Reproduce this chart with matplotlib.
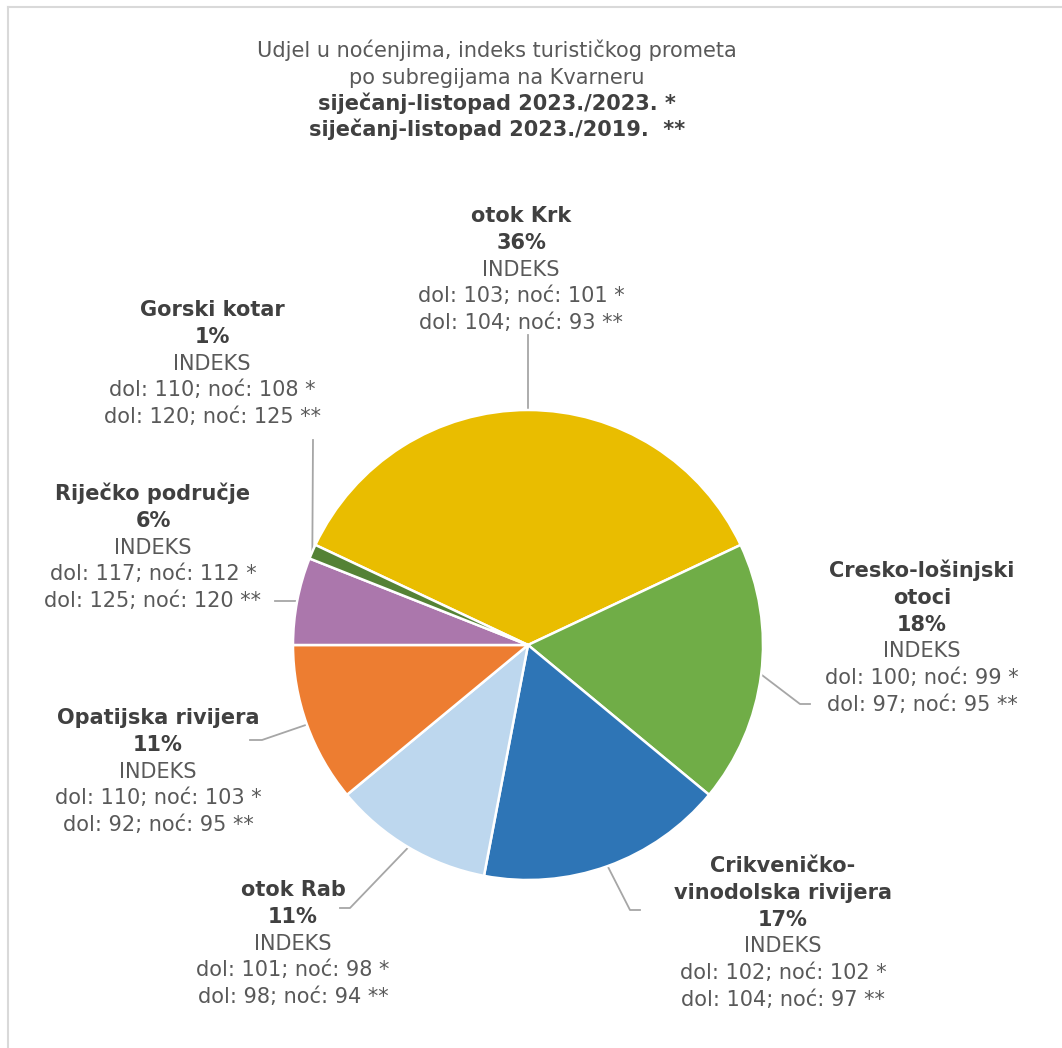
import numpy as np
import matplotlib
matplotlib.use("Agg")
import matplotlib.pyplot as plt
from matplotlib.lines import Line2D

# data (clockwise from the top)
names = ['otok Krk', 'Cresko-lošinjski\notoci', 'Crikveničko-\nvinodolska rivijera',
         'otok Rab', 'Opatijska rivijera', 'Riječko područje', 'Gorski kotar']
shares = [36, 18, 17, 11, 11, 6, 1]
dol_23 = [103, 100, 102, 101, 110, 117, 110]
noc_23 = [101, 99, 102, 98, 103, 112, 108]
dol_19 = [104, 97, 104, 98, 92, 125, 120]
noc_19 = [93, 95, 97, 94, 95, 120, 125]
colors = ['#E9BD00', '#70AD47', '#2E75B6', '#BDD7EE', '#ED7D31', '#AB77AC', '#548235']

title_lines = [('Udjel u noćenjima, indeks turističkog prometa', 'normal'),
               ('po subregijama na Kvarneru', 'normal'),
               ('siječanj-listopad 2023./2023. *', 'bold'),
               ('siječanj-listopad 2023./2019.  **', 'bold')]

# layout in pixels (y from top)
W, H = 1062, 1048
CX, CY, R = 528, 645, 235
STEP = 26.8
label_pos = [(521, 222), (922, 577), (783, 872), (293, 896), (158, 724), (153, 500), (212, 316)]
# leader elbow + end points (pixels)
leaders = [[(528, 335)],
           [(800, 704), (810, 704)],
           [(630, 910), (640, 910)],
           [(350, 908), (340, 908)],
           [(262, 740), (250, 740)],
           [(275, None)],
           [(313, 440)]]

BOLD_C = '#404040'
NORM_C = '#595959'
FS = 15

fig = plt.figure(figsize=(W / 100, H / 100), dpi=100)
ax = fig.add_axes([0, 0, 1, 1])


def py(y):
    return H - y


wedges, _ = ax.pie(shares, colors=colors, startangle=90 + shares[0] * 1.8,
                   counterclock=False, center=(CX, py(CY)), radius=R,
                   wedgeprops=dict(edgecolor='white', linewidth=1.8))
ax.set_xlim(0, W)
ax.set_ylim(0, H)
ax.set_aspect('equal')
ax.axis('off')

# title
for i, (txt, w) in enumerate(title_lines):
    ax.text(497, py(57 + i * 26.5), txt, ha='center', va='baseline', fontsize=FS,
            fontweight=w, color=BOLD_C if w == 'bold' else NORM_C)

# labels
for i, nm in enumerate(names):
    lines = [(s, 'bold') for s in nm.split('\n')]
    lines.append((f'{shares[i]}%', 'bold'))
    lines.append(('INDEKS', 'normal'))
    lines.append((f'dol: {dol_23[i]}; noć: {noc_23[i]} *', 'normal'))
    lines.append((f'dol: {dol_19[i]}; noć: {noc_19[i]} **', 'normal'))
    x0, y0 = label_pos[i]
    for j, (txt, w) in enumerate(lines):
        ax.text(x0, py(y0 + j * STEP), txt, ha='center', va='baseline', fontsize=FS,
                fontweight=w, color=BOLD_C if w == 'bold' else NORM_C)

    # leader line from wedge middle
    wd = wedges[i]
    ang = np.deg2rad((wd.theta1 + wd.theta2) / 2)
    sx = CX + R * np.cos(ang)
    sy = CY - R * np.sin(ang)
    xs, ys = [sx], [sy]
    for (lx, ly) in leaders[i]:
        xs.append(lx)
        ys.append(sy if ly is None else ly)
    ax.plot(xs, [py(v) for v in ys], color='#A6A6A6', lw=1.3, zorder=0.5)

# chart border (top and left visible)
fig.add_artist(Line2D([7.5 / W, 1], [1 - 6.5 / H, 1 - 6.5 / H], color='#D9D9D9', lw=1.5))
fig.add_artist(Line2D([7.5 / W, 7.5 / W], [0, 1 - 6.5 / H], color='#D9D9D9', lw=1.5))

fig.savefig('out.png', dpi=100, facecolor='white')
